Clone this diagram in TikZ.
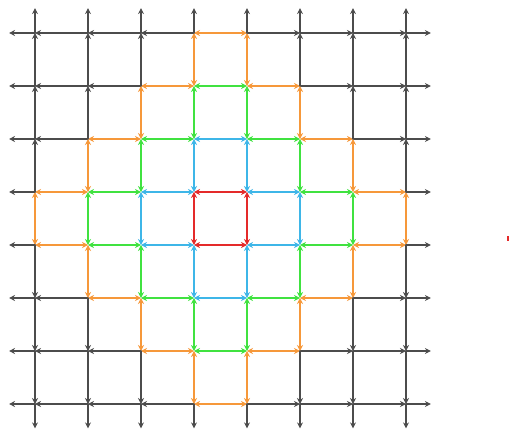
\documentclass[tikz,border=0pt]{standalone}
\usetikzlibrary{arrows.meta}

\begin{document}
\begin{tikzpicture}[x=1.4cm,y=-1.4cm,>={Stealth[length=4.5pt,width=4.5pt]},line join=round,line cap=round,
  edge/.style={line width=1.05pt},
  grid/.style={black!70},
  ring0/.style={color={rgb,255:red,228;green,42;blue,42}},
  ring1/.style={color={rgb,255:red,62;green,182;blue,232}},
  ring2/.style={color={rgb,255:red,64;green,226;blue,64}},
  ring3/.style={color={rgb,255:red,246;green,152;blue,58}}]
  \useasboundingbox (-0.6604,-0.6226) rectangle (8.9434,7.5283);

  % lattice points and the free ends of the outer arrows
  \foreach \i in {0,...,7}
    \foreach \j in {0,...,7}
      \coordinate (v\i\j) at (\i,\j);
  \foreach \k in {0,...,7} {
    \coordinate (t\k) at (\k,-0.47);
    \coordinate (b\k) at (\k,7.46);
    \coordinate (l\k) at (-0.49,\k);
    \coordinate (r\k) at (7.47,\k);
  }

  % horizontal edges
  \foreach \i in {0,...,6}
    \foreach \j in {0,...,7} {
      \pgfmathtruncatemacro\ii{\i+1}
      \pgfmathtruncatemacro\m{min(4,max(max(0,3-\i,\i-4),max(0,3-\ii,\ii-4))+max(0,3-\j,\j-4))}
      \ifnum\m<4
        \draw[edge,<->,ring\m] (v\i\j) -- (v\ii\j);
      \else
        \ifnum\i<4 \draw[edge,->,grid] (v\ii\j) -- (v\i\j);
        \else \draw[edge,->,grid] (v\i\j) -- (v\ii\j); \fi
      \fi
    }

  % vertical edges
  \foreach \i in {0,...,7}
    \foreach \j in {0,...,6} {
      \pgfmathtruncatemacro\jj{\j+1}
      \pgfmathtruncatemacro\m{min(4,max(max(0,3-\j,\j-4),max(0,3-\jj,\jj-4))+max(0,3-\i,\i-4))}
      \ifnum\m<4
        \draw[edge,<->,ring\m] (v\i\j) -- (v\i\jj);
      \else
        \ifnum\j<4 \draw[edge,->,grid] (v\i\jj) -- (v\i\j);
        \else \draw[edge,->,grid] (v\i\j) -- (v\i\jj); \fi
      \fi
    }

  % outer arrows
  \foreach \k in {0,...,7} {
    \draw[edge,->,grid] (v\k0) -- (t\k);
    \draw[edge,->,grid] (v\k7) -- (b\k);
    \draw[edge,->,grid] (v0\k) -- (l\k);
    \draw[edge,->,grid] (v7\k) -- (r\k);
  }

  \fill[ring0] (8.905,3.83) rectangle (8.945,3.92);
\end{tikzpicture}
\end{document}
